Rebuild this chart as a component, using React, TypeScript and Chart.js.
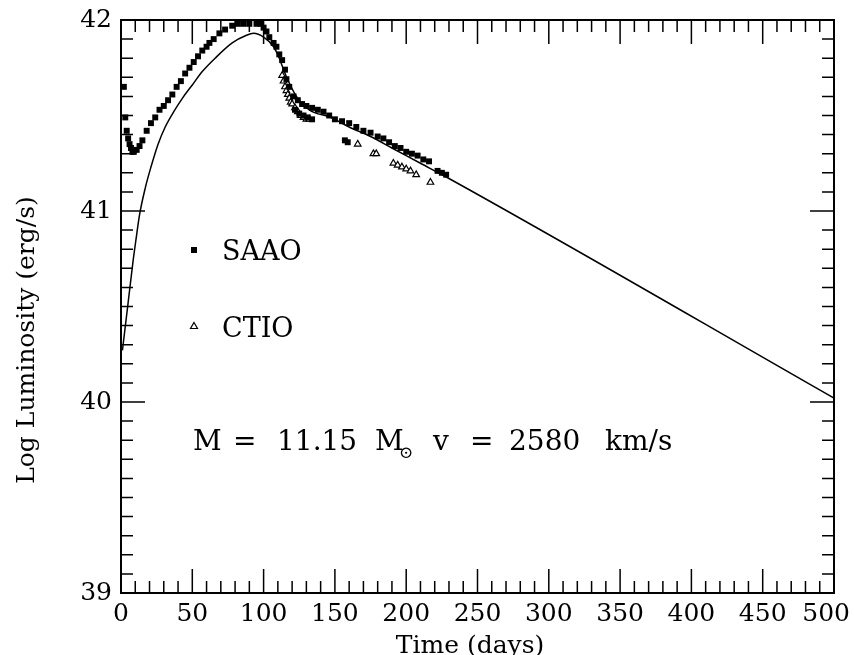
import { useEffect, useRef } from 'react';
import { Chart, registerables } from 'chart.js';

Chart.register(...registerables);

// Model light curve (solid line)
const modelDays = [1, 5, 8.5, 10.5, 13, 17, 21, 26, 31, 37, 43, 50, 57, 66, 78, 88, 93, 100, 107, 111, 114, 118, 123, 132, 147, 160, 175, 190, 210, 230, 500];
const modelLum = [40.27, 40.52, 40.74, 40.85, 40.98, 41.12, 41.23, 41.35, 41.44, 41.52, 41.59, 41.66, 41.73, 41.8, 41.88, 41.92, 41.93, 41.91, 41.86, 41.8, 41.74, 41.67, 41.6, 41.53, 41.49, 41.44, 41.39, 41.33, 41.25, 41.17, 40.02];

// SAAO observations (filled squares)
const saaoDays = [2, 3, 4, 5, 6, 7, 8, 9, 11, 13, 15, 18, 21, 24, 27, 30, 33, 36, 39, 42, 45, 48, 51, 54, 57, 60, 62, 65, 69, 73, 78, 82, 86, 90, 95, 98, 100, 102, 104, 107, 109, 111, 113, 115, 116, 118, 121, 124, 127, 130, 134, 138, 142, 146, 150, 155, 157, 159, 160, 165, 170, 175, 180, 184, 188, 192, 196, 200, 204, 208, 212, 216, 222, 225, 228, 122, 125, 128, 131, 134];
const saaoLum = [41.65, 41.49, 41.42, 41.38, 41.35, 41.33, 41.31, 41.31, 41.32, 41.34, 41.37, 41.42, 41.46, 41.49, 41.53, 41.55, 41.58, 41.61, 41.65, 41.68, 41.72, 41.75, 41.78, 41.81, 41.84, 41.86, 41.88, 41.9, 41.93, 41.95, 41.97, 41.98, 41.98, 41.98, 41.98, 41.98, 41.96, 41.94, 41.91, 41.88, 41.86, 41.82, 41.79, 41.74, 41.69, 41.65, 41.6, 41.58, 41.56, 41.55, 41.54, 41.53, 41.52, 41.5, 41.48, 41.47, 41.37, 41.36, 41.46, 41.44, 41.42, 41.41, 41.39, 41.38, 41.36, 41.34, 41.33, 41.31, 41.3, 41.29, 41.27, 41.26, 41.21, 41.2, 41.19, 41.53, 41.51, 41.5, 41.49, 41.48];

// CTIO observations (open triangles)
const ctioDays = [113, 114, 115, 116, 117, 118, 119, 120, 122, 124, 126, 128, 130, 132, 166, 177, 179, 191, 194, 197, 200, 203, 207, 217];
const ctioLum = [41.71, 41.68, 41.65, 41.63, 41.61, 41.59, 41.57, 41.56, 41.54, 41.52, 41.5, 41.49, 41.48, 41.48, 41.35, 41.3, 41.3, 41.25, 41.24, 41.23, 41.22, 41.21, 41.19, 41.15];

const xMin = 0, xMax = 500, xMajor = 50, xMinor = 10;
const yMin = 39, yMax = 42, yMajor = 1, yMinor = 0.1;
const xTickLabels = ['0', '50', '100', '150', '200', '250', '300', '350', '400', '450', '500'];

const xTitle = 'Time (days)';
const yTitle = 'Log Luminosity (erg/s)';
const legendLabels = ['SAAO', 'CTIO'];
const FONT = '"DejaVu Serif", serif';

const toPts = (xs: number[], ys: number[]) => xs.map((x, i) => ({ x, y: ys[i] }));

const decorPlugin = {
  id: 'decor',
  afterDraw(chart: any) {
    const { ctx, chartArea: a, scales } = chart;
    const xs = scales.x, ys = scales.y;
    ctx.save();
    ctx.strokeStyle = '#000';
    ctx.fillStyle = '#000';
    ctx.lineWidth = 2;
    ctx.strokeRect(a.left, a.top, a.right - a.left, a.bottom - a.top);
    ctx.lineWidth = 1.5;
    ctx.beginPath();
    const nx = Math.round((xMax - xMin) / xMinor);
    for (let i = 0; i <= nx; i++) {
      const v = xMin + i * xMinor;
      const px = xs.getPixelForValue(v);
      const len = Math.abs(v % xMajor) < 1e-9 ? 24 : 12;
      ctx.moveTo(px, a.bottom); ctx.lineTo(px, a.bottom - len);
      ctx.moveTo(px, a.top); ctx.lineTo(px, a.top + len);
    }
    const ny = Math.round((yMax - yMin) / yMinor);
    for (let i = 0; i <= ny; i++) {
      const v = yMin + i * yMinor;
      const py = ys.getPixelForValue(v);
      const len = i % Math.round(yMajor / yMinor) === 0 ? 24 : 12;
      ctx.moveTo(a.left, py); ctx.lineTo(a.left + len, py);
      ctx.moveTo(a.right, py); ctx.lineTo(a.right - len, py);
    }
    ctx.stroke();

    // x tick labels (kept inside the page)
    ctx.font = `25px ${FONT}`;
    ctx.textAlign = 'center';
    ctx.textBaseline = 'alphabetic';
    xTickLabels.forEach((lab, i) => {
      const v = xMin + i * xMajor;
      const w = ctx.measureText(lab).width;
      const px = Math.min(xs.getPixelForValue(v), chart.width - 4 - w / 2);
      ctx.fillText(lab, px, 621);
    });

    // axis titles
    ctx.fillText(xTitle, 470, 653);
    ctx.save();
    ctx.translate(34, 340);
    ctx.rotate(-Math.PI / 2);
    ctx.fillText(yTitle, 0, 0);
    ctx.restore();

    // legend-like annotations
    ctx.textAlign = 'left';
    ctx.font = `27px ${FONT}`;
    ctx.fillRect(191, 247, 6, 6);
    ctx.fillText(legendLabels[0], 222, 260);
    ctx.lineWidth = 1.2;
    ctx.beginPath();
    ctx.moveTo(194, 322.5); ctx.lineTo(197.5, 328.5); ctx.lineTo(190.5, 328.5); ctx.closePath();
    ctx.stroke();
    ctx.fillText(legendLabels[1], 222, 337);

    // model parameters
    ctx.font = `28px ${FONT}`;
    ctx.fillText('M', 193, 450);
    ctx.fillText('=', 233, 450);
    ctx.fillText('11.15', 277, 450);
    ctx.fillText('M', 375, 450);
    ctx.font = `17px ${FONT}`;
    ctx.fillText('\u2299', 399, 458);
    ctx.font = `28px ${FONT}`;
    ctx.fillText('v', 433, 450);
    ctx.fillText('=', 470, 450);
    ctx.fillText('2580', 509, 450);
    ctx.fillText('km/s', 605, 450);
    ctx.restore();
  },
};

export default function App() {
  const ref = useRef<HTMLCanvasElement>(null);
  useEffect(() => {
    document.body.style.margin = '0';
    const chart = new Chart(ref.current as HTMLCanvasElement, {
      type: 'scatter',
      data: {
        datasets: [
          {
            label: 'Model',
            data: toPts(modelDays, modelLum),
            showLine: true,
            borderColor: '#000',
            borderWidth: 1.5,
            pointRadius: 0,
            cubicInterpolationMode: 'monotone',
            order: 3,
          } as any,
          {
            label: legendLabels[0],
            data: toPts(saaoDays, saaoLum),
            pointStyle: 'rect',
            pointRadius: 4.2,
            backgroundColor: '#000',
            borderColor: '#000',
            borderWidth: 0,
            order: 1,
          },
          {
            label: legendLabels[1],
            data: toPts(ctioDays, ctioLum),
            pointStyle: 'triangle',
            pointRadius: 3.8,
            backgroundColor: '#fff',
            borderColor: '#000',
            borderWidth: 1.2,
            order: 2,
          },
        ],
      },
      options: {
        animation: false,
        responsive: false,
        devicePixelRatio: 1,
        layout: { padding: { top: 20, right: 20, left: 0, bottom: 0 } },
        plugins: { legend: { display: false }, tooltip: { enabled: false } },
        scales: {
          x: {
            type: 'linear',
            min: xMin,
            max: xMax,
            grid: { display: false, drawTicks: false },
            border: { display: false },
            ticks: { display: false, stepSize: xMajor },
            afterFit: (s: any) => { s.height = 62; s.paddingLeft = 0; s.paddingRight = 0; },
          },
          y: {
            type: 'linear',
            min: yMin,
            max: yMax,
            grid: { display: false, drawTicks: false },
            border: { display: false },
            ticks: { stepSize: yMajor, color: '#000', font: { family: FONT, size: 25 }, padding: 9 },
            afterFit: (s: any) => { s.width = 121; s.paddingTop = 0; s.paddingBottom = 0; },
          },
        },
      },
      plugins: [decorPlugin],
    });
    return () => chart.destroy();
  }, []);
  return (
    <div style={{ width: 854, height: 655 }}>
      <canvas ref={ref} width={854} height={655} />
    </div>
  );
}
